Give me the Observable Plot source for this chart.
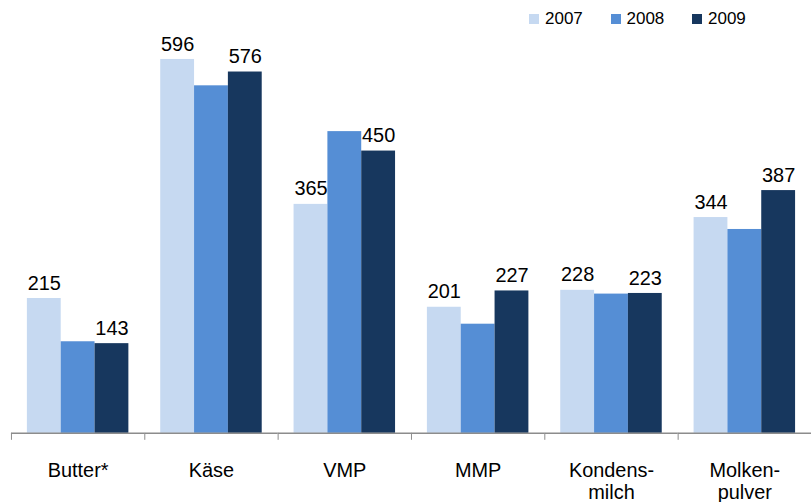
<!DOCTYPE html>
<html><head><meta charset="utf-8">
<script src="https://cdn.jsdelivr.net/npm/d3@7"></script>
<script src="https://cdn.jsdelivr.net/npm/@observablehq/plot@0.6"></script>
<style>
html,body{margin:0;padding:0;background:#fff;overflow:hidden;}
#wrap{position:relative;width:812px;height:504px;overflow:hidden;font-family:"Liberation Sans",Arial,sans-serif;}
#wrap svg{font-family:"Liberation Sans",Arial,sans-serif;}
#legend{position:absolute;top:10px;left:529px;display:flex;font-size:17px;color:#000;line-height:17px;}
#legend .item{display:flex;align-items:center;width:81.5px;}
#legend .sw{width:10px;height:10px;margin-right:6px;}
</style></head><body>
<div id="wrap"><div id="legend"></div></div>
<script>
const categories = ["Butter*", "Käse", "VMP", "MMP", "Kondens-\nmilch", "Molken-\npulver"];
const years = ["2007", "2008", "2009"];
const v2007 = [215, 596, 365, 201, 228, 344];
const v2008 = [146, 554, 481, 174, 222, 325];
const v2009 = [143, 576, 450, 227, 223, 387];
const labeledYears = ["2007", "2009"];
const colors = ["#c6d9f1", "#558ed5", "#17375e"];

const series = [v2007, v2008, v2009];
const data = [];
categories.forEach((c, i) => {
  series.forEach((arr, j) => data.push({category: c, year: years[j], value: arr[i]}));
});

const FONT = '"Liberation Sans", Arial, sans-serif';
const chart = Plot.plot({
  width: 816, height: 504,
  marginLeft: 10, marginRight: 0, marginTop: 0, marginBottom: 69,
  style: {fontFamily: FONT, fontSize: "20px", color: "#000", background: "#fff"},
  fx: {domain: categories, padding: 0, label: null},
  x: {domain: years, paddingInner: 0, paddingOuter: 0.47, axis: null},
  y: {domain: [0, 690], axis: null},
  color: {domain: years, range: colors},
  marks: [
    Plot.barY(data, {fx: "category", x: "year", y: "value", fill: "year", inset: 0}),
    Plot.text(data.filter(d => labeledYears.includes(d.year)), {
      fx: "category", x: "year", y: "value", text: d => String(d.value),
      lineAnchor: "bottom", dy: -9, fill: "#000", fontSize: 20, fontFamily: FONT
    }),
    Plot.ruleY([0], {stroke: "#8c8c8c", strokeWidth: 1.5}),
    Plot.frame({anchor: "left", stroke: "#8c8c8c", insetTop: 435, insetBottom: -6}),
    Plot.axisFx({anchor: "bottom", tickSize: 0, tickPadding: 28, fontSize: 20, lineHeight: 1.1, label: null, fill: "#000", fontFamily: FONT})
  ]
});
document.getElementById("wrap").appendChild(chart);

const legend = document.getElementById("legend");
years.forEach((y, i) => {
  const item = document.createElement("div");
  item.className = "item";
  const sw = document.createElement("div");
  sw.className = "sw";
  sw.style.background = colors[i];
  const t = document.createElement("span");
  t.textContent = y;
  item.appendChild(sw); item.appendChild(t);
  legend.appendChild(item);
});
</script>
</body></html>
